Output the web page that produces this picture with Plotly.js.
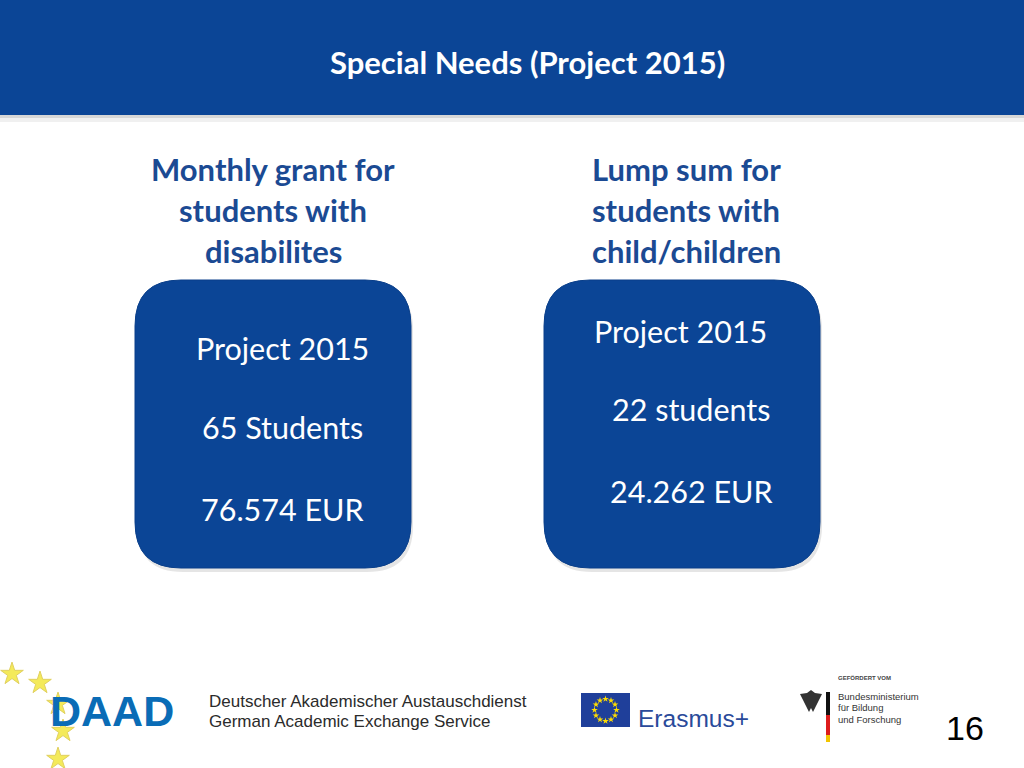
<!DOCTYPE html>
<html><head><meta charset="utf-8">
<script src="https://cdn.plot.ly/plotly-3.0.1.min.js"></script>
<style>html,body{margin:0;padding:0;background:#fff;}#chart{width:1024px;height:768px;}</style>
</head><body><div id="chart"></div>
<script>
// ---- content ----
var slideTitle = "Special Needs (Project 2015)";
var columnHeadings = [
  ["Monthly grant for", "students with", "disabilites"],
  ["Lump sum for", "students with", "child/children"]
];
var boxLabels = ["Project 2015", "Project 2015"];
var studentCounts = ["65 Students", "22 students"];
var amountsEUR = ["76.574 EUR", "24.262 EUR"];
var daadLines = ["Deutscher Akademischer Austauschdienst", "German Academic Exchange Service"];
var bmbfLines = ["Bundesministerium", "für Bildung", "und Forschung"];
var pageNumber = "16";

// ---- layout helpers ----
var BLUE = "#0b4596";
var HEAD = "#1b4a93";
function rr(x0, y0, x1, y1, r) {
  return "M" + (x0 + r) + "," + y0 + " H" + (x1 - r) + " Q" + x1 + "," + y0 + " " + x1 + "," + (y0 + r) +
    " V" + (y1 - r) + " Q" + x1 + "," + y1 + " " + (x1 - r) + "," + y1 + " H" + (x0 + r) +
    " Q" + x0 + "," + y1 + " " + x0 + "," + (y1 - r) + " V" + (y0 + r) + " Q" + x0 + "," + y0 + " " + (x0 + r) + "," + y0 + " Z";
}
var shapes = [];
var ann = [];
// header
shapes.push({type:"rect", x0:0, x1:1024, y0:114, y1:122, line:{width:0}, fillcolor:"rgba(0,0,0,0.06)", layer:"below"});
shapes.push({type:"rect", x0:0, x1:1024, y0:114, y1:118, line:{width:0}, fillcolor:"rgba(0,0,0,0.10)", layer:"below"});
shapes.push({type:"rect", x0:0, x1:1024, y0:0, y1:115, line:{width:0}, fillcolor:BLUE, layer:"below"});
ann.push({x:527, y:62, text:"<b>" + slideTitle + "</b>", font:{family:"Lato", size:31, color:"#ffffff"}});

// columns
var colCenters = [273, 686];
var headY = [169, 210, 251];
var boxes = [[135, 280, 411, 568], [544, 280, 820, 568]];
var textPos = [
  [[282, 348], [282, 427], [282, 509]],
  [[680, 331], [691, 409], [691, 491]]
];
for (var c = 0; c < 2; c++) {
  for (var i = 0; i < 3; i++) {
    ann.push({x:colCenters[c], y:headY[i], text:"<b>" + columnHeadings[c][i] + "</b>",
      font:{family:"Lato", size:31, color:HEAD}});
  }
  var b = boxes[c];
  shapes.push({type:"path", path:rr(b[0] + 2, b[1] + 4, b[2] + 2, b[3] + 4, 46), line:{width:0}, fillcolor:"rgba(0,0,0,0.10)", layer:"below"});
  shapes.push({type:"path", path:rr(b[0], b[1], b[2], b[3], 46), line:{width:1, color:"#0a3f8a"}, fillcolor:BLUE, layer:"below"});
  var vals = [boxLabels[c], studentCounts[c], amountsEUR[c]];
  for (var j = 0; j < 3; j++) {
    ann.push({x:textPos[c][j][0], y:textPos[c][j][1], text:vals[j], font:{family:"Lato", size:30.5, color:"#ffffff"}});
  }
}

// footer: DAAD
ann.push({x:112, y:711, text:"<b>DAAD</b>", font:{family:"Liberation Sans", size:43, color:"#0a6cb6"}});
ann.push({x:207, y:701, xanchor:"left", text:daadLines[0], font:{family:"Liberation Sans", size:17, color:"#2b2b2b"}});
ann.push({x:207, y:721, xanchor:"left", text:daadLines[1], font:{family:"Liberation Sans", size:17, color:"#2b2b2b"}});
// Erasmus flag
shapes.push({type:"rect", x0:581, x1:630, y0:693, y1:727, line:{width:0}, fillcolor:"#1f3f9a", layer:"below"});
var flagStarsX = [], flagStarsY = [];
for (var k = 0; k < 12; k++) {
  var a = k * Math.PI / 6;
  flagStarsX.push(605.5 + 11 * Math.sin(a));
  flagStarsY.push(710 - 11 * Math.cos(a));
}
ann.push({x:636, y:718, xanchor:"left", text:"Erasmus+", font:{family:"Liberation Sans", size:24.5, color:"#2a4a9a"}});
// BMBF
ann.push({x:836, y:678, xanchor:"left", text:"<b>GEFÖRDERT VOM</b>", font:{family:"Liberation Sans Narrow, Liberation Sans", size:6, color:"#444"}});
for (var m = 0; m < 3; m++) {
  ann.push({x:836, y:696 + m * 11.5, xanchor:"left", text:bmbfLines[m], font:{family:"Liberation Sans Narrow, Liberation Sans", size:9.5, color:"#333"}});
}
shapes.push({type:"rect", x0:826, x1:830, y0:692, y1:715, line:{width:0}, fillcolor:"#111"});
shapes.push({type:"rect", x0:826, x1:830, y0:715, y1:735, line:{width:0}, fillcolor:"#dd1c1c"});
shapes.push({type:"rect", x0:826, x1:830, y0:735, y1:742, line:{width:0}, fillcolor:"#f2c500"});
// eagle (simplified)
shapes.push({type:"path", path:"M811,690 L815,693 L822,694 L819,700 L816,706 L813,712 L811,708 L809,712 L806,706 L803,700 L800,694 L807,693 Z", line:{width:0}, fillcolor:"#333"});
// page number
ann.push({x:965, y:728, text:pageNumber, font:{family:"Liberation Sans", size:34, color:"#000"}});

ann.forEach(function(o){ o.xref = "x"; o.yref = "y"; o.showarrow = false; if (!o.xanchor) o.xanchor = "center"; o.yanchor = "middle"; });

var daadStarsX = [12, 40, 58, 63, 58];
var daadStarsY = [674, 683, 704, 731, 759];

var traces = [
  {x:daadStarsX, y:daadStarsY, mode:"markers", type:"scatter", hoverinfo:"skip",
   marker:{symbol:"star", size:17, color:"#f4ea5a", line:{color:"#e0d060", width:1}}},
  {x:flagStarsX, y:flagStarsY, mode:"markers", type:"scatter", hoverinfo:"skip",
   marker:{symbol:"star", size:5, color:"#ffdd00", line:{width:0}}}
];

var layout = {
  width:1024, height:768, margin:{l:0, r:0, t:0, b:0},
  paper_bgcolor:"#ffffff", plot_bgcolor:"#ffffff", showlegend:false,
  xaxis:{range:[0, 1024], visible:false, fixedrange:true},
  yaxis:{range:[768, 0], visible:false, fixedrange:true},
  shapes:shapes, annotations:ann
};
Plotly.newPlot("chart", traces, layout, {displayModeBar:false, staticPlot:true});
</script>
</body></html>
